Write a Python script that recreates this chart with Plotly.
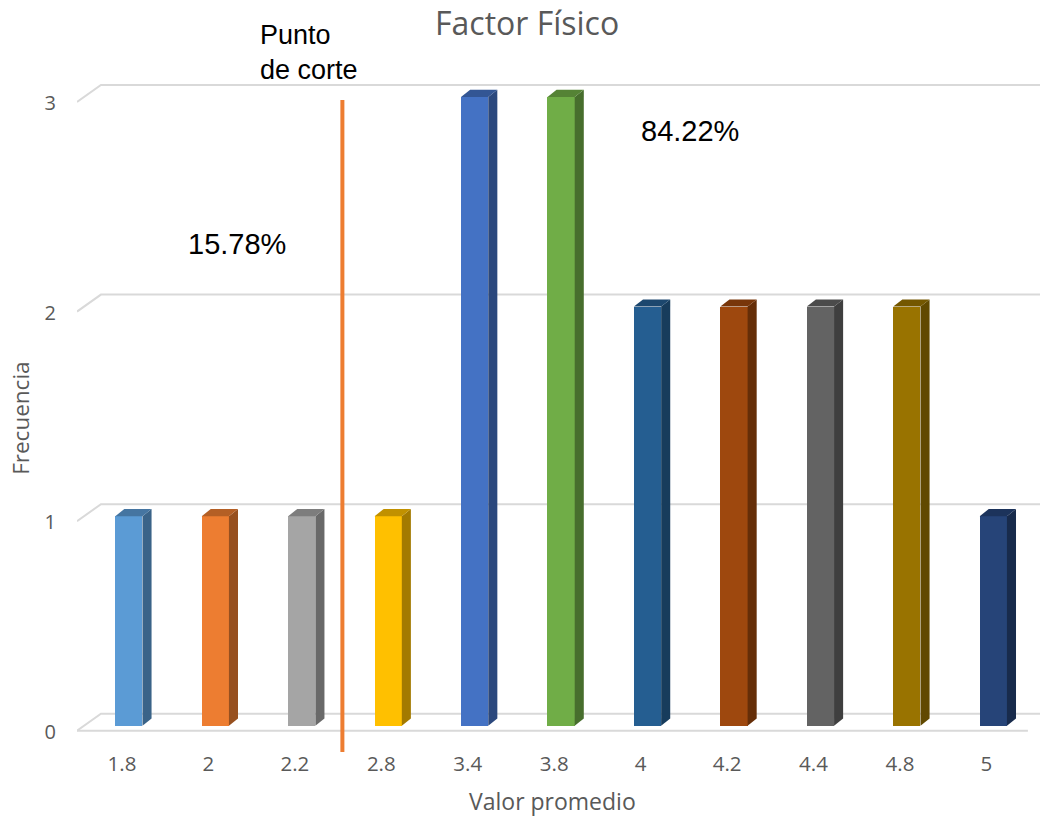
import plotly.graph_objects as go

# Data
categorias = ["1.8", "2", "2.2", "2.8", "3.4", "3.8", "4", "4.2", "4.4", "4.8", "5"]
frecuencias = [1, 1, 1, 1, 3, 3, 2, 2, 2, 2, 1]
colores = ["#5B9BD5", "#ED7D31", "#A5A5A5", "#FFC000", "#4472C4", "#70AD47",
           "#255E91", "#9E480E", "#636363", "#997300", "#264478"]
niveles_y = [0, 1, 2, 3]
porc_bajo = "15.78%"
porc_alto = "84.22%"
corte_idx = 2.47  # cut line sits between 2.2 and 2.8

# 3D look (in axis units)
ANCHO = 0.315      # front face width
DX = 0.105         # depth offset along x
DY = 0.034         # depth offset along y
X0, X1 = -0.6, 10.54
GRID_F = -0.024    # front edge of floor/grid
GRID_B = 0.057     # back wall of grid
SLANT = 0.277
GRID_COLOR = "#D9D9D9"


def sombra(hexc, f):
    h = hexc.lstrip("#")
    r, g, b = (int(h[i:i + 2], 16) for i in (0, 2, 4))
    return "rgb({},{},{})".format(int(r * f), int(g * f), int(b * f))


fig = go.Figure()

# Gridlines in perspective (below every trace): slanted left edge + back wall line
formas = []
for v in niveles_y:
    formas.append(dict(type="path", xref="x", yref="y", layer="below",
                       path="M {},{} L {},{} L {},{}".format(
                           X0, v + GRID_F, X0 + SLANT, v + GRID_B, X1, v + GRID_B),
                       line=dict(color=GRID_COLOR, width=2)))
# Front edge of the floor
formas.append(dict(type="line", xref="x", yref="y", layer="below",
                   x0=X0, x1=10.4, y0=GRID_F, y1=GRID_F,
                   line=dict(color=GRID_COLOR, width=2)))

# Columns: side face, top face, front face
for i, (v, c) in enumerate(zip(frecuencias, colores)):
    xl, xr = i - ANCHO / 2, i + ANCHO / 2
    fig.add_trace(go.Scatter(
        x=[xr, xr + DX, xr + DX, xr, xr], y=[0, DY, v + DY, v, 0],
        fill="toself", fillcolor=sombra(c, 0.64), mode="lines",
        line=dict(width=0), hoverinfo="skip", showlegend=False))
    fig.add_trace(go.Scatter(
        x=[xl, xr, xr + DX, xl + DX, xl], y=[v, v, v + DY, v + DY, v],
        fill="toself", fillcolor=sombra(c, 0.76), mode="lines",
        line=dict(width=0), hoverinfo="skip", showlegend=False))

fig.add_trace(go.Bar(
    x=list(range(len(categorias))), y=frecuencias, width=ANCHO,
    marker=dict(color=colores, line=dict(width=0)),
    hoverinfo="y", showlegend=False))

# Cut-off line
fig.add_trace(go.Scatter(
    x=[corte_idx, corte_idx], y=[-0.125, 2.985], mode="lines",
    line=dict(color="#ED7D31", width=4), hoverinfo="skip", showlegend=False))

TXT = "#595959"
fig.update_layout(
    width=1042, height=817,
    margin=dict(l=77, r=2, t=55, b=64),
    paper_bgcolor="white", plot_bgcolor="white",
    font=dict(family="Open Sans", color=TXT),
    bargap=0,
    shapes=formas,
    xaxis=dict(
        range=[X0, X1], showgrid=False, zeroline=False, showline=False,
        tickvals=[i - 0.08 for i in range(len(categorias))],
        ticktext=categorias, ticks="", ticklabelstandoff=-4,
        tickfont=dict(size=20.5, color=TXT)),
    yaxis=dict(
        range=[-0.13, 3.2], showgrid=False, zeroline=False, showline=False,
        tickvals=[v - 0.03 for v in niveles_y], ticktext=[str(v) for v in niveles_y],
        ticks="", ticklabelstandoff=20, tickfont=dict(size=20, color=TXT)),
    annotations=[
        dict(text="Factor Físico", xref="paper", yref="paper", x=0.467, y=1.047,
             xanchor="center", yanchor="middle", showarrow=False,
             font=dict(size=32, color=TXT)),
        dict(text="Valor promedio", xref="paper", yref="paper", x=0.494, y=-0.069,
             xanchor="center", yanchor="middle", showarrow=False,
             font=dict(size=23, color=TXT)),
        dict(text="Frecuencia", xref="paper", yref="paper", x=-0.059, y=0.479,
             xanchor="center", yanchor="middle", textangle=-90, showarrow=False,
             font=dict(size=22.5, color=TXT)),
        dict(text="Punto<br>de corte", xref="paper", yref="paper", x=0.188, y=1.0036,
             xanchor="left", yanchor="middle", align="left", showarrow=False,
             font=dict(family="Liberation Sans, Arial", size=27, color="black")),
        dict(text=porc_bajo, xref="paper", yref="paper", x=0.166, y=0.729,
             xanchor="center", yanchor="middle", showarrow=False,
             font=dict(family="Liberation Sans, Arial", size=29, color="black")),
        dict(text=porc_alto, xref="paper", yref="paper", x=0.637, y=0.891,
             xanchor="center", yanchor="middle", showarrow=False,
             font=dict(family="Liberation Sans, Arial", size=29, color="black")),
    ],
)

fig.write_html("out.html")
